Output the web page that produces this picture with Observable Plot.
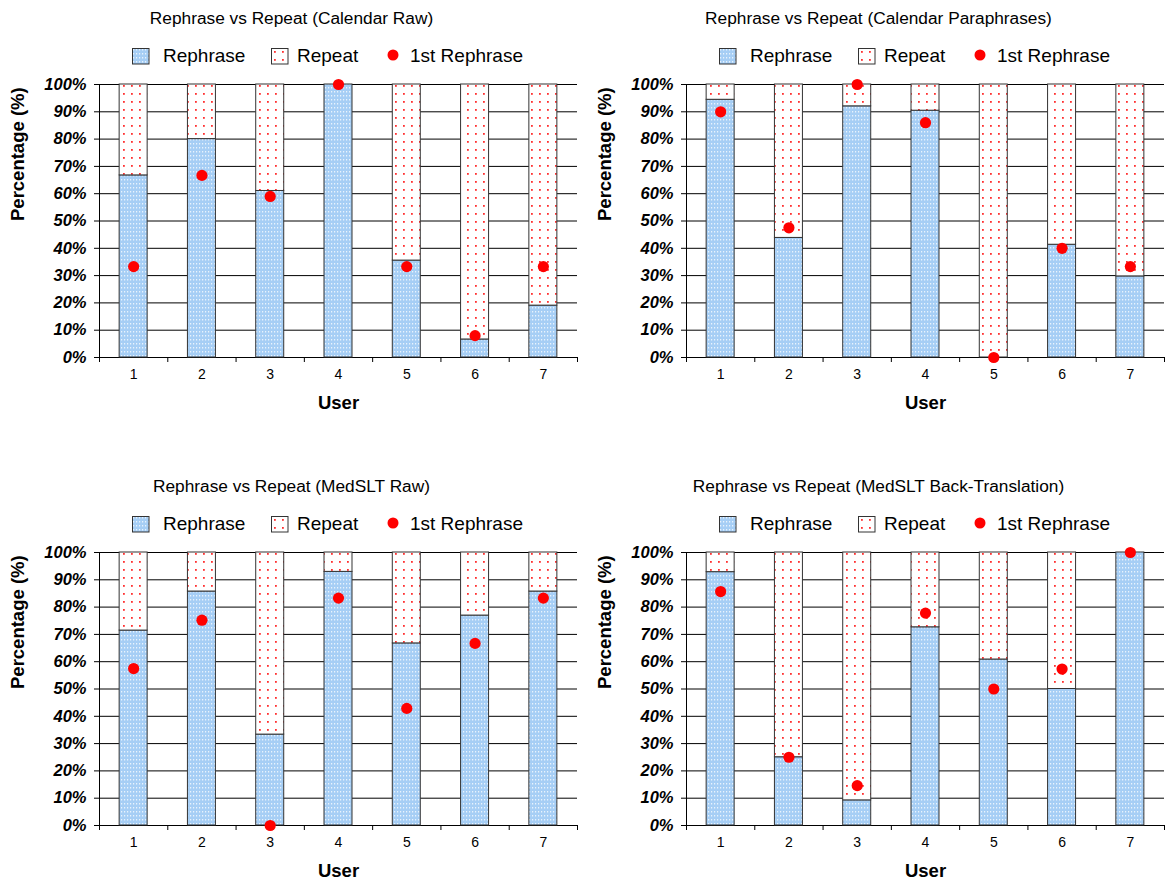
<!DOCTYPE html>
<html>
<head>
<meta charset="utf-8">
<script src="https://cdn.jsdelivr.net/npm/d3@7"></script>
<script src="https://cdn.jsdelivr.net/npm/@observablehq/plot@0.6"></script>
<style>
  html, body { margin: 0; padding: 0; background: #fff; }
  body { font-family: "Liberation Sans", Arial, sans-serif; color: #000; }
  #root { position: relative; width: 1166px; height: 880px; overflow: hidden; }
  .panel { position: absolute; height: 430px; }
  .title { position: absolute; left: 0; top: 8px; width: 583px; text-align: center; font-size: 17.3px; line-height: 20px; white-space: nowrap; }
  .leg { position: absolute; top: 46px; height: 20px; line-height: 20px; font-size: 19px; white-space: nowrap; }
  .sw { position: absolute; top: 2px; }
  .chart { position: absolute; left: 0; top: 74px; }
</style>
</head>
<body>
<svg width="0" height="0" style="position:absolute">
  <defs>
    <pattern id="bluePat" width="3" height="4" patternUnits="userSpaceOnUse">
      <rect width="3" height="4" fill="#a6cef5"></rect>
      <rect x="1" y="1" width="1.2" height="1.5" fill="#e8f3fd"></rect>
    </pattern>
    <pattern id="redPat" width="8" height="8" patternUnits="userSpaceOnUse">
      <rect width="8" height="8" fill="#ffffff"></rect>
      <rect x="3" y="3" width="1.8" height="1.8" fill="#ff3030"></rect>
    </pattern>
  </defs>
</svg>
<div id="root"></div>
<script>
// ---- data ----
const users = [1, 2, 3, 4, 5, 6, 7];
const userBoundaries = [0.5, 1.5, 2.5, 3.5, 4.5, 5.5, 6.5, 7.5];
const yTicks = [0, 10, 20, 30, 40, 50, 60, 70, 80, 90, 100];
const legendLabels = ["Rephrase", "Repeat", "1st Rephrase"];
const xTitle = "User";
const yTitle = "Percentage (%)";
const chartTitles = [
  "Rephrase vs Repeat (Calendar Raw)",
  "Rephrase vs Repeat (Calendar Paraphrases)",
  "Rephrase vs Repeat (MedSLT Raw)",
  "Rephrase vs Repeat (MedSLT Back-Translation)"
];

const calRawRephrase = [66.7, 80, 61, 100, 35.5, 6.6, 19];
const calRawRepeat   = [33.3, 20, 39, 0, 64.5, 93.4, 81];
const calRawFirst    = [33.3, 66.7, 59, 100, 33.3, 8, 33.3];

const calParRephrase = [94.4, 43.8, 92, 90.4, 0, 41.3, 29.7];
const calParRepeat   = [5.6, 56.2, 8, 9.6, 100, 58.7, 70.3];
const calParFirst    = [90, 47.5, 100, 86, 0, 40, 33.3];

const medRawRephrase = [71.4, 85.7, 33.3, 92.9, 66.7, 76.9, 85.7];
const medRawRepeat   = [28.6, 14.3, 66.7, 7.1, 33.3, 23.1, 14.3];
const medRawFirst    = [57.5, 75.2, 0, 83.3, 42.9, 66.7, 83.3];

const medBtRephrase  = [92.8, 25, 9.2, 72.6, 60.8, 50, 100];
const medBtRepeat    = [7.2, 75, 90.8, 27.4, 39.2, 50, 0];
const medBtFirst     = [85.7, 25, 14.6, 77.8, 50, 57.3, 100];

const panels = [
  {title: chartTitles[0], reph: calRawRephrase, rep: calRawRepeat, first: calRawFirst, left: 0,   top: 0,   width: 583},
  {title: chartTitles[1], reph: calParRephrase, rep: calParRepeat, first: calParFirst, left: 587, top: 0,   width: 579},
  {title: chartTitles[2], reph: medRawRephrase, rep: medRawRepeat, first: medRawFirst, left: 0,   top: 468, width: 583},
  {title: chartTitles[3], reph: medBtRephrase,  rep: medBtRepeat,  first: medBtFirst,  left: 587, top: 468, width: 579}
];

const FONT = '"Liberation Sans", Arial, sans-serif';

function makeChart(p) {
  const rows = users.map((u, i) => ({user: u, reph: p.reph[i], rep: p.rep[i], first: p.first[i]}));
  const half = 0.205;
  return Plot.plot({
    width: p.width,
    height: 343,
    marginTop: 10,
    marginBottom: 60,
    marginLeft: 99,
    marginRight: p.width - 577,
    style: {fontFamily: FONT, fontSize: "14px", color: "#000", background: "transparent", overflow: "visible"},
    x: {domain: [0.5, 7.5], axis: null},
    y: {domain: [0, 100], axis: null},
    marks: [
      Plot.gridY(yTicks, {stroke: "#000", strokeOpacity: 1, strokeWidth: 1}),
      Plot.rect(rows, {x1: d => d.user - half, x2: d => d.user + half, y1: 0, y2: "reph",
        fill: "url(#bluePat)", stroke: "#333", strokeWidth: 1}),
      Plot.rect(rows, {x1: d => d.user - half, x2: d => d.user + half, y1: "reph", y2: d => d.reph + d.rep,
        fill: "url(#redPat)", stroke: "#333", strokeWidth: 1}),
      Plot.ruleX([0.5], {stroke: "#000"}),
      Plot.axisY(yTicks, {tickSize: 5, tickPadding: 8, tickFormat: d => d + "%",
        fontWeight: "bold", fontStyle: "italic", fontSize: 16.5, label: null}),
      Plot.axisX(userBoundaries, {tickSize: 5, tickFormat: () => "", label: null}),
      Plot.axisX(users, {tickSize: 0, tickPadding: 12, fontSize: 14, label: null}),
      Plot.dot(rows, {x: "user", y: "first", r: 5.6, fill: "#ff0000"}),
      Plot.text([xTitle], {text: d => d, frameAnchor: "bottom", dy: 51, fontWeight: "bold", fontSize: 18.5}),
      Plot.text([yTitle], {text: d => d, frameAnchor: "left", dx: -81, rotate: -90, fontWeight: "bold", fontSize: 18.5})
    ]
  });
}

function swatchSvg(fill) {
  return `<svg class="sw" width="18" height="17"><rect x="0.5" y="0.5" width="16.5" height="15.5" fill="${fill}" stroke="#333"/></svg>`;
}

const root = document.getElementById("root");
for (const p of panels) {
  const panel = document.createElement("div");
  panel.className = "panel";
  panel.style.left = p.left + "px";
  panel.style.top = p.top + "px";
  panel.style.width = p.width + "px";

  const t = document.createElement("div");
  t.className = "title";
  t.textContent = p.title;
  panel.appendChild(t);

  const legItems = [
    {left: 132, html: swatchSvg("url(#bluePat)")},
    {left: 163, html: legendLabels[0]},
    {left: 271, html: swatchSvg("url(#redPat)")},
    {left: 297, html: legendLabels[1]},
    {left: 387, html: `<svg class="sw" width="12" height="16" style="top:3px"><circle cx="6" cy="6" r="5.5" fill="#ff0000"/></svg>`},
    {left: 410, html: legendLabels[2]}
  ];
  for (const it of legItems) {
    const s = document.createElement("div");
    s.className = "leg";
    s.style.left = it.left + "px";
    s.innerHTML = it.html;
    panel.appendChild(s);
  }

  const c = document.createElement("div");
  c.className = "chart";
  c.appendChild(makeChart(p));
  panel.appendChild(c);
  root.appendChild(panel);
}
</script>
</body>
</html>
